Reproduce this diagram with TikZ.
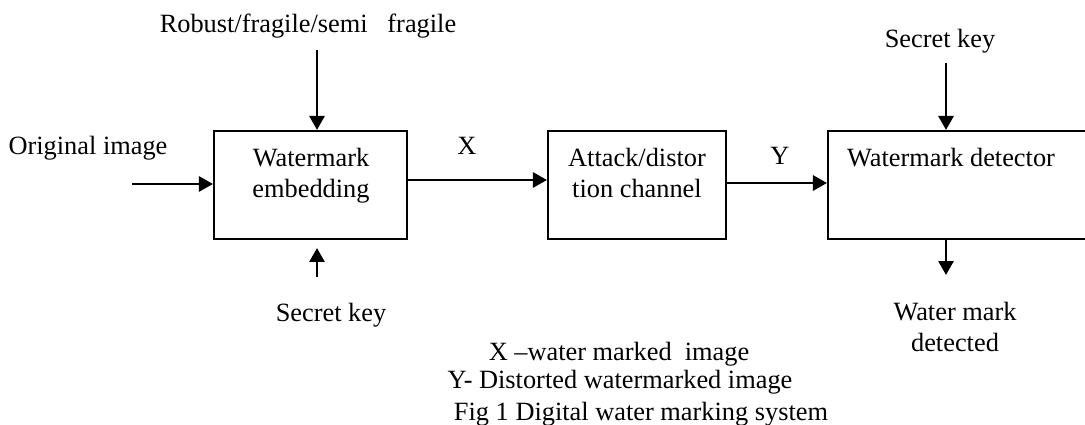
\documentclass[tikz,border=0pt]{standalone}
\usepackage{fontspec}
\setmainfont{Liberation Serif}
\usetikzlibrary{arrows.meta,positioning}
\begin{document}
\begin{tikzpicture}[x=0.02cm,y=-0.02cm,font=\fontsize{15}{18}\selectfont,
        blk/.style={draw,rectangle,line width=1.2pt,inner sep=0pt,minimum width=#1,minimum height=2.16cm},
        txt/.style={anchor=base,align=center,inner sep=0pt},
        arr/.style={line width=1.6pt,-{Triangle[length=0.28cm,width=0.3cm]}}]
        \useasboundingbox (0,0) rectangle (1085,425);
        \node[blk=3.86cm] (emb) at (310.5,185) {};
        \node[blk=3.56cm] (att) at (637,185) {};
        \node[blk=5.24cm] (det) at (959,185) {};
        \node[txt] (embtxt) at (311,198) {Watermark\\embedding};
        \node[txt] (atttxt) at (637,198) {Attack/distor\\tion channel};
        \node[txt] (dettxt) at (951,167) {Watermark detector};
        \node[txt] (orig) at (88,155) {Original image};
        \node[txt] (rob) at (308,33) {Robust/fragile/semi\ \ \ fragile};
        \node[txt] (key1) at (940,48) {Secret key};
        \node[txt] (key2) at (331,322) {Secret key};
        \node[txt] (wmd) at (955,352) {Water mark\\detected};
        \node[txt] (xlab) at (467,155) {X};
        \node[txt] (ylab) at (780,165) {Y};
        \node[txt] (capx) at (619,360) {X --water marked\ \ image};
        \node[txt] (capy) at (620,389) {Y- Distorted watermarked image};
        \node[txt] (capfig) at (641,420) {Fig 1 Digital water marking system};
        \coordinate (origend) at (132,184);
        \coordinate (robend) at (317,50);
        \coordinate (k1end) at (946,63);
        \coordinate (k2end) at (317,277);
        \coordinate (k2tip) at (317,248);
        \coordinate (outend) at (946,275);
        \draw[arr] (origend) -- (origend -| emb.west);
        \draw[arr] ([yshift=0.1cm]emb.east) -- ([yshift=0.1cm]att.west);
        \draw[arr] ([yshift=0.04cm]att.east) -- ([yshift=0.04cm]det.west);
        \draw[arr] (robend) -- (robend |- emb.north);
        \draw[arr] (k1end) -- (k1end |- det.north);
        \draw[arr] (k2end) -- (k2tip);
        \draw[arr] (outend |- det.south) -- (outend);
\end{tikzpicture}
\end{document}
